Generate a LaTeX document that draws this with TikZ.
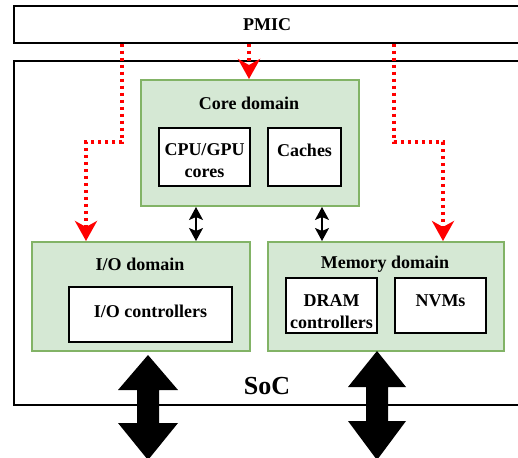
\documentclass[tikz,border=0pt]{standalone}
\usepackage{fontspec}
\setmainfont{Liberation Serif}
\usetikzlibrary{arrows.meta}
\definecolor{gfill}{HTML}{D5E8D4}
\definecolor{gline}{HTML}{82B366}
\tikzset{
  x=1pt, y=-1pt,
  lbl/.style={font=\fontsize{18}{22}\selectfont\bfseries, align=center, inner sep=0pt},
  outerbox/.style={draw=black, line width=1.5pt, fill=white, inner sep=0pt},
  dombox/.style={draw=gline, line width=2pt, fill=gfill, inner sep=0pt},
  unitbox/.style={draw=black, line width=2pt, fill=white, inner sep=0pt},
  pwr/.style={draw=red, line width=3.5pt, dash pattern=on 3.5pt off 3.5pt, -{Stealth[length=20pt,width=22pt,inset=6pt]}},
  bus/.style={draw=black, line width=1.5pt, {Stealth[length=13pt,width=14pt,inset=3pt]}-{Stealth[length=13pt,width=14pt,inset=3pt]}},
  bigarrow/.style={fill=black, draw=none}
}
\begin{document}
\begin{tikzpicture}
\useasboundingbox (0,0) rectangle (518,457);
\clip (0,0) rectangle (518,457);
\fill[white] (0,0) rectangle (518,457);
% outer boxes
\node[outerbox, minimum width=507pt, minimum height=37pt] (pmic) at (267.5,24.5) {};
\node[lbl] (pmict) at (267,25) {PMIC};
\node[outerbox, minimum width=507pt, minimum height=344pt] (soc) at (267.5,233) {};
\node[lbl, font=\fontsize{26}{30}\selectfont\bfseries] (soct) at (267,386) {SoC};
% core domain
\node[dombox, minimum width=218pt, minimum height=126pt] (core) at (250,143) {};
\node[lbl] (coret) at (249,103) {Core domain};
\node[unitbox, minimum width=91pt, minimum height=58pt] (cpu) at (204.5,157) {};
\node[lbl] (cput) at (204.5,161) {CPU/GPU\\cores};
\node[unitbox, minimum width=73pt, minimum height=58pt] (cache) at (304.5,157) {};
\node[lbl] (cachet) at (304.5,150) {Caches};
% io domain
\node[dombox, minimum width=218pt, minimum height=109pt] (io) at (141,296.5) {};
\node[lbl] (iot) at (140,264) {I/O domain};
\node[unitbox, minimum width=163pt, minimum height=55pt] (ioc) at (150.5,314.5) {};
\node[lbl] (ioct) at (150.5,311) {I/O controllers};
% memory domain
\node[dombox, minimum width=236pt, minimum height=109pt] (mem) at (386,296.5) {};
\node[lbl] (memt) at (385,264) {Memory domain};
\node[unitbox, minimum width=91pt, minimum height=55pt] (dram) at (331.5,305.5) {};
\node[lbl] (dramt) at (331.5,311.5) {DRAM\\controllers};
\node[unitbox, minimum width=91pt, minimum height=55pt] (nvm) at (440.5,305.5) {};
\node[lbl] (nvmt) at (440.5,301) {NVMs};
% power arrows
\coordinate (l1) at (122,142);
\coordinate (l2) at (86,142);
\coordinate (r1) at (394,142);
\coordinate (r2) at (443,142);
\coordinate (c1) at (249,0);
\draw[pwr] (pmic.south -| l1) -- (l1) -| (l2 |- io.north);
\draw[pwr] (pmic.south -| r1) -- (r1) -| (r2 |- mem.north);
\draw[pwr] (pmic.south -| c1) -- (core.north -| c1);
% bus arrows
\coordinate (b1) at (196,0);
\coordinate (b2) at (322,0);
\draw[bus] (core.south -| b1) -- (io.north -| b1);
\draw[bus] (core.south -| b2) -- (mem.north -| b2);
% big external arrows
\fill[bigarrow] (148,355) -- (178,390) -- (159,390) -- (159,423) -- (178,423) -- (148,460)
  -- (118,423) -- (137,423) -- (137,390) -- (118,390) -- cycle;
\fill[bigarrow] (377,351) -- (406,387) -- (388,387) -- (388,421) -- (406,421) -- (377,460)
  -- (348,421) -- (366,421) -- (366,387) -- (348,387) -- cycle;
\end{tikzpicture}
\end{document}
